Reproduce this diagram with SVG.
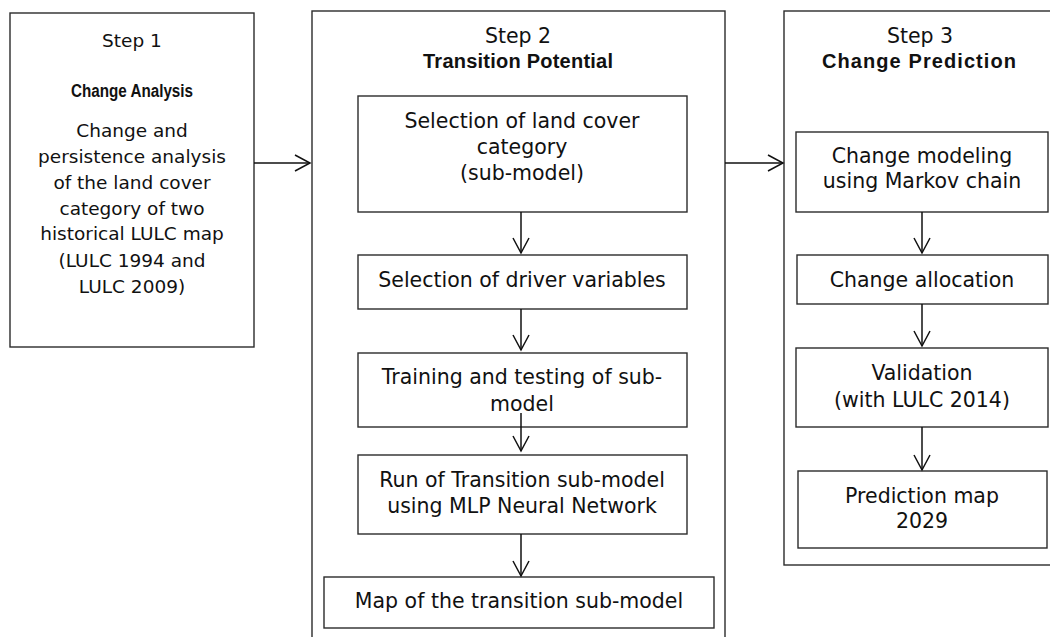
<svg xmlns="http://www.w3.org/2000/svg" width="1050" height="637" viewBox="0 0 1050 637">
<style>
  .box { fill: #ffffff; stroke: #2b2b2b; stroke-width: 1.4; }
  .t { font-family: "DejaVu Sans", "Liberation Sans", sans-serif; font-size: 20.5px; fill: #111; text-anchor: middle; }
  .s { font-size: 18.5px; }
  .b { font-family: "Liberation Sans", Arial, sans-serif; font-weight: bold; font-size: 20px; fill: #111; text-anchor: middle; }
  .c { fill: none; stroke: #111; stroke-width: 1.5; }
</style>
<defs>
  <marker id="arr" markerUnits="userSpaceOnUse" markerWidth="20" markerHeight="20" viewBox="-16 -10 20 20" refX="0" refY="0" orient="auto">
    <path d="M-15,-8 L0,0 L-15,8" fill="none" stroke="#111" stroke-width="1.5"/>
  </marker>
</defs>
<rect width="1050" height="637" fill="#ffffff"/>

<g id="step1">
  <rect class="box" x="10" y="13" width="244" height="334"/>
  <text class="t s" x="132" y="47">Step 1</text>
  <text class="b" x="132" y="97" style="font-size:17.5px" textLength="122" lengthAdjust="spacingAndGlyphs">Change Analysis</text>
  <text class="t s" x="132" y="137">Change and</text>
  <text class="t s" x="132" y="163">persistence analysis</text>
  <text class="t s" x="132" y="189">of the land cover</text>
  <text class="t s" x="132" y="215">category of two</text>
  <text class="t s" x="132" y="240">historical LULC map</text>
  <text class="t s" x="132" y="267">(LULC 1994 and</text>
  <text class="t s" x="132" y="293">LULC 2009)</text>
</g>

<g id="step2">
  <rect class="box" x="312" y="11" width="413" height="640"/>
  <text class="t" x="518" y="43">Step 2</text>
  <text class="b" x="518" y="68" textLength="190">Transition Potential</text>
</g>
<g id="s2-landcover">
  <rect class="box" x="358" y="96" width="329" height="116"/>
  <text class="t" x="522" y="128">Selection of land cover</text>
  <text class="t" x="522" y="154">category</text>
  <text class="t" x="522" y="180">(sub-model)</text>
</g>
<g id="s2-drivers">
  <rect class="box" x="358" y="255" width="329" height="54"/>
  <text class="t" x="522" y="287">Selection of driver variables</text>
</g>
<g id="s2-training">
  <rect class="box" x="358" y="353" width="329" height="74"/>
  <text class="t" x="522" y="384">Training and testing of sub-</text>
  <text class="t" x="522" y="411">model</text>
</g>
<g id="s2-run">
  <rect class="box" x="358" y="455" width="329" height="79"/>
  <text class="t" x="522" y="487">Run of Transition sub-model</text>
  <text class="t" x="522" y="513">using MLP Neural Network</text>
</g>
<g id="s2-map">
  <rect class="box" x="324" y="577" width="390" height="51"/>
  <text class="t" x="519" y="608">Map of the transition sub-model</text>
</g>

<g id="step3">
  <rect class="box" x="784" y="11" width="280" height="554"/>
  <text class="t" x="920" y="43">Step 3</text>
  <text class="b" x="919" y="68" textLength="194">Change Prediction</text>
</g>
<g id="s3-markov">
  <rect class="box" x="796" y="132" width="252" height="80"/>
  <text class="t" x="922" y="163">Change modeling</text>
  <text class="t" x="922" y="188">using Markov chain</text>
</g>
<g id="s3-allocation">
  <rect class="box" x="797" y="255" width="251" height="49"/>
  <text class="t" x="922" y="287">Change allocation</text>
</g>
<g id="s3-validation">
  <rect class="box" x="796" y="348" width="252" height="79"/>
  <text class="t" x="922" y="380">Validation</text>
  <text class="t" x="922" y="407">(with LULC 2014)</text>
</g>
<g id="s3-prediction">
  <rect class="box" x="798" y="471" width="249" height="77"/>
  <text class="t" x="922" y="503">Prediction map</text>
  <text class="t" x="922" y="528">2029</text>
</g>

<g id="connectors">
  <line class="c" x1="254" y1="163" x2="310" y2="163" marker-end="url(#arr)"/>
  <line class="c" x1="725" y1="163" x2="783" y2="163" marker-end="url(#arr)"/>
  <line class="c" x1="521" y1="212" x2="521" y2="253" marker-end="url(#arr)"/>
  <line class="c" x1="521" y1="309" x2="521" y2="350" marker-end="url(#arr)"/>
  <line class="c" x1="521" y1="413" x2="521" y2="451" marker-end="url(#arr)"/>
  <line class="c" x1="521" y1="534" x2="521" y2="576" marker-end="url(#arr)"/>
  <line class="c" x1="922" y1="212" x2="922" y2="253" marker-end="url(#arr)"/>
  <line class="c" x1="922" y1="304" x2="922" y2="346" marker-end="url(#arr)"/>
  <line class="c" x1="922" y1="427" x2="922" y2="470" marker-end="url(#arr)"/>
</g>
</svg>
